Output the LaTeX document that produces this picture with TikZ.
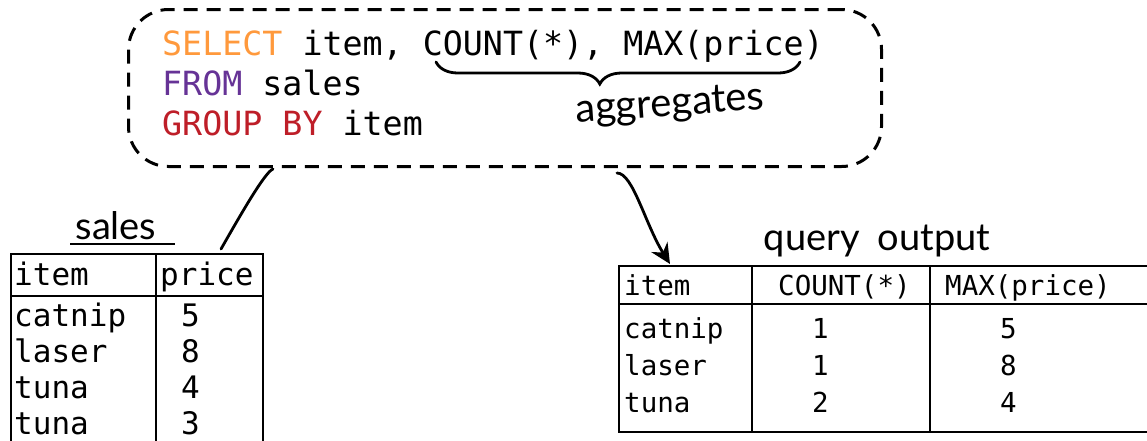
\documentclass[tikz,border=0pt]{standalone}
\usepackage{fontspec}
\setmonofont{DejaVu Sans Mono}
\newfontfamily\handfont{Lato}
\usetikzlibrary{decorations.pathreplacing,arrows.meta,calc}
\definecolor{sqlorange}{RGB}{255,153,60}
\definecolor{sqlpurple}{RGB}{102,51,150}
\definecolor{sqlred}{RGB}{190,30,40}
\tikzset{
  code/.style={anchor=base west,inner sep=0pt,font=\ttfamily\fontsize{33.3}{40}\selectfont},
  cellA/.style={anchor=base west,inner sep=0pt,font=\ttfamily\fontsize{31}{36}\selectfont},
  cellB/.style={anchor=base west,inner sep=0pt,font=\ttfamily\fontsize{27.5}{32}\selectfont},
  hand/.style={inner sep=0pt,font=\handfont\fontsize{38}{38}\selectfont},
  tbl/.style={draw,line width=2pt,anchor=north west,inner sep=0pt},
  rule/.style={line width=2pt},
  conn/.style={line width=2.8pt,line cap=round},
  dashbox/.style={draw,line width=3pt,dash pattern=on 14pt off 9pt,rounded corners=40pt,anchor=north west,inner sep=0pt}
}
\begin{document}
\begin{tikzpicture}[x=1pt,y=-1pt]
\useasboundingbox (0,0) rectangle (1147,440);
% query box
\node[dashbox,minimum width=753pt,minimum height=157pt] (box) at (127,8) {};
\node[code] (l1) at (162,55) {\textcolor{sqlorange}{SELECT} item, COUNT(*), MAX(price)};
\node[code] (l2) at (162,95) {\textcolor{sqlpurple}{FROM} sales};
\node[code] (l3) at (162,135) {\textcolor{sqlred}{GROUP BY} item};
\draw[conn,decorate,decoration={brace,mirror,amplitude=22pt,aspect=0.45}] (436,62) -- (800,62);
\node[hand,rotate=4,font=\handfont\fontsize{40}{40}\selectfont] (agg) at (670,106) {aggregates};
% sales table
\node[hand] (saleslab) at (116,226) {sales};
\draw[rule] (70,244) -- (175,244);
\node[tbl,minimum width=252pt,minimum height=220pt] (sales) at (10,253) {};
\draw[rule] ([xshift=146pt]sales.north west) -- ([xshift=146pt]sales.south west);
\draw[rule] ([yshift=-43pt]sales.north west) -- ([yshift=-43pt]sales.north east);
\node[cellA] (sh1) at (14,285) {item};
\node[cellA] (sh2) at (160,285) {price};
\node[cellA] (sa1) at (14,326) {catnip};
\node[cellA] (sa2) at (14,362) {laser};
\node[cellA] (sa3) at (14,398) {tuna};
\node[cellA] (sa4) at (14,434) {tuna};
\node[cellA] (sb1) at (181,326) {5};
\node[cellA] (sb2) at (181,362) {8};
\node[cellA] (sb3) at (181,398) {4};
\node[cellA] (sb4) at (181,434) {3};
% output table
\node[hand] (outlab) at (877,241) {query\hspace{18pt}output};
\node[tbl,minimum width=560pt,minimum height=166pt] (out) at (618,265) {};
\draw[rule] ([xshift=134pt]out.north west) -- ([xshift=134pt]out.south west);
\draw[rule] ([xshift=312pt]out.north west) -- ([xshift=312pt]out.south west);
\draw[rule] ([yshift=-39pt]out.north west) -- ([yshift=-39pt]out.north east);
\node[cellB] (oh1) at (624,295) {item};
\node[cellB] (oh2) at (778,295) {COUNT(*)};
\node[cellB] (oh3) at (945,295) {MAX(price)};
\node[cellB] (oa1) at (624,338) {catnip};
\node[cellB] (oa2) at (624,375) {laser};
\node[cellB] (oa3) at (624,412) {tuna};
\node[cellB] (ob1) at (812,338) {1};
\node[cellB] (ob2) at (812,375) {1};
\node[cellB] (ob3) at (812,412) {2};
\node[cellB] (oc1) at (1000,338) {5};
\node[cellB] (oc2) at (1000,375) {8};
\node[cellB] (oc3) at (1000,412) {4};
% connectors
\draw[conn] ([xshift=146pt,yshift=-1pt]box.south west) .. controls +(-8,3) and +(20,-35) .. ([xshift=-43pt,yshift=4pt]sales.north east);
\draw[conn,-{Stealth[length=20pt,width=19pt]}] ([xshift=490pt,yshift=-5pt]box.south west) .. controls +(16,0) and +(-25,-40) .. ([xshift=52pt,yshift=1pt]out.north west);
\end{tikzpicture}
\end{document}
